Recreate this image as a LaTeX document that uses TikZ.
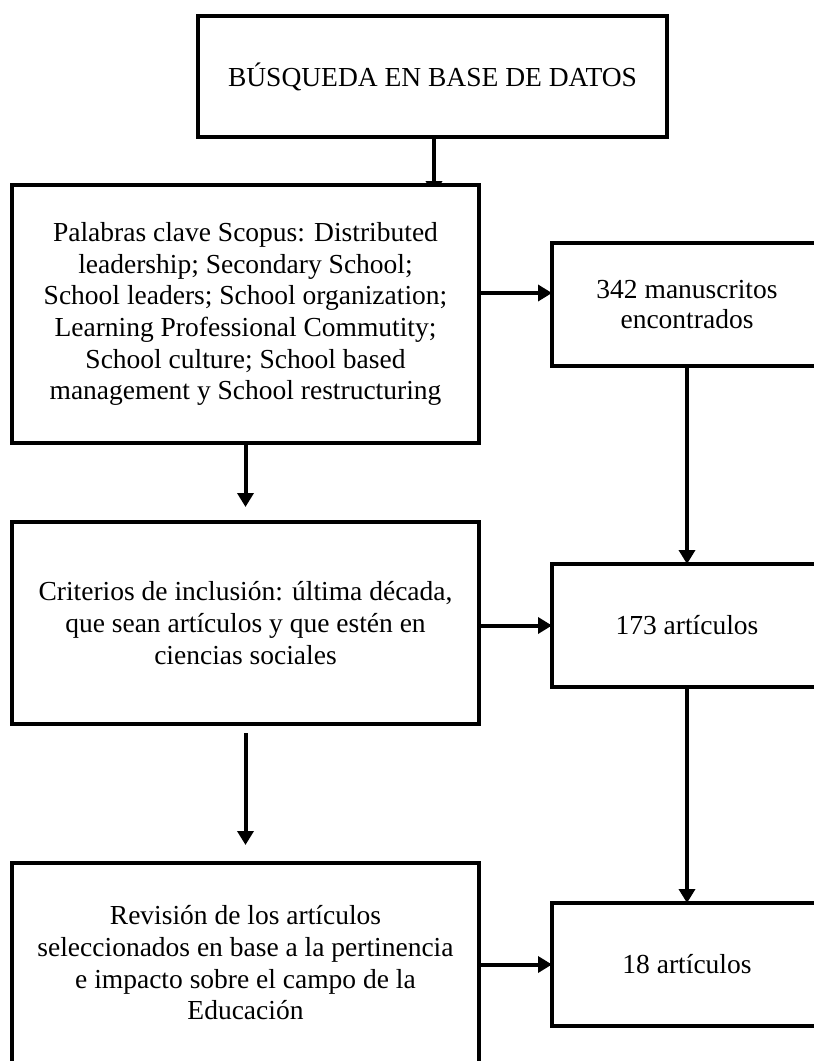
\documentclass[tikz,border=0pt]{standalone}
\usepackage{fontspec}
\setmainfont{Liberation Serif}
\usetikzlibrary{arrows.meta,calc,backgrounds}
\begin{document}
\begin{tikzpicture}[x=1pt,y=-1pt,
  box/.style={draw=black,fill=white,line width=4pt,rectangle,inner sep=0pt,outer sep=0pt,
    align=center,font=\fontsize{27.5}{31.7}\selectfont},
  lbox/.style={box,minimum width=467pt},
  rbox/.style={box,minimum width=270pt,minimum height=123pt},
  conn/.style={line width=4pt,-{Triangle[width=16pt,length=14pt]}}]
\clip (0,0) rectangle (814,1061);
% nodes
\node[box,minimum width=469pt,minimum height=121pt] (top) at (432.5,76.5) {BÚSQUEDA EN BASE DE DATOS};
\node[lbox,minimum height=258pt] (b2) at (245.5,314) {Palabras clave Scopus: Distributed\\leadership; Secondary School;\\School leaders; School organization;\\Learning Professional Commutity;\\School culture; School based\\management y School restructuring};
\node[rbox,font=\fontsize{27.5}{29.5}\selectfont] (r1) at (687,304.5) {342 manuscritos\\encontrados};
\node[lbox,minimum height=202pt] (b3) at (245.5,623) {Criterios de inclusión: última década,\\que sean artículos y que estén en\\ciencias sociales};
\node[rbox] (r2) at (687,625.5) {173 artículos};
\node[lbox,minimum height=200pt] (b4) at (245.5,963) {Revisión de los artículos\\seleccionados en base a la pertinencia\\e impacto sobre el campo de la\\Educación};
\node[rbox] (r3) at (687,964.5) {18 artículos};
% connectors
\begin{scope}[on background layer]
\fill[white] (0,0) rectangle (814,1061);
\draw[conn] ([xshift=1.5pt]top.south) -- ([xshift=1.5pt,yshift=-10pt]top.south |- b2.north);
\end{scope}
\draw[conn] ([yshift=21pt]b2.east) -- ([yshift=21pt]b2.east -| r1.west);
\draw[conn] (b2.south) -- ([yshift=15pt]b3.north);
\draw[conn] (r1.south) -- (r2.north);
\draw[conn] (b3.east |- r2.west) -- (r2.west);
\draw[conn] ([yshift=-9pt]b3.south) -- ([yshift=18pt]b4.north);
\draw[conn] (r2.south) -- (r3.north);
\draw[conn] (b4.east |- r3.west) -- (r3.west);
\end{tikzpicture}
\end{document}
